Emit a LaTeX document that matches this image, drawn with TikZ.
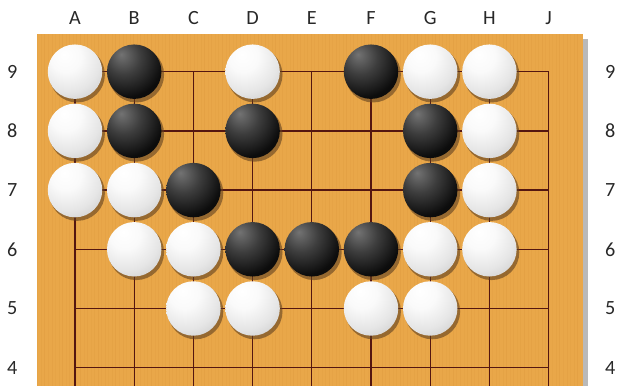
\documentclass[tikz,border=0pt]{standalone}
\usepackage{fontspec}
\setmainfont{Carlito}
\usetikzlibrary{shadows}
\definecolor{boardwood}{RGB}{233,167,73}
\definecolor{boardstripe}{RGB}{212,143,52}
\definecolor{gridbrown}{RGB}{84,22,16}
\definecolor{labelgray}{RGB}{40,40,40}
\pgfdeclareradialshading{whitestone}{\pgfpoint{-10bp}{16bp}}{%
  color(0bp)=(white); color(14bp)=(white!98!black);
  color(30bp)=(white!90!black); color(48bp)=(white!76!black);
  color(64bp)=(white!62!black); color(100bp)=(white!62!black)}
\pgfdeclareradialshading{blackstone}{\pgfpoint{-12bp}{16bp}}{%
  color(0bp)=(black!55); color(16bp)=(black!76);
  color(34bp)=(black!95); color(58bp)=(black);
  color(100bp)=(black)}
\tikzset{
  stone/.style={circle, minimum size=0.92cm, inner sep=0pt,
    drop shadow={shadow xshift=0.035cm, shadow yshift=-0.05cm,
      shadow scale=1.02, fill=brown!50!black, opacity=0.6}},
  wstone/.style={stone, shading=whitestone},
  bstone/.style={stone, shading=blackstone},
  coordlabel/.style={font=\fontsize{9.7}{11}\selectfont, text=labelgray, inner sep=0pt}
}

\begin{document}
\begin{tikzpicture}[x=1cm, y=1cm]
  \useasboundingbox (-0.267,3.691) rectangle (10.189,10.211);
  %% Board and its edge shadow
  \fill[gray!55] (9.581,3.691) rectangle (9.666,9.56);
  \fill[boardwood] (0.358,3.691) rectangle (9.581,9.637);
  %% Wood grain
  \foreach \s in {0,...,152}{
    \pgfmathsetmacro{\op}{0.10+0.12*mod(\s*7,5)/4}
    \draw[boardstripe, opacity=\op, line width=0.35pt]
      ({0.37+0.06*\s},3.691) -- ({0.37+0.06*\s},9.637);
  }
  %% Grid lines
  \foreach \x in {1,...,9}{
    \draw[gridbrown, line width=0.6pt] (\x,9) -- (\x,3.691);
  }
  \foreach \y in {4,...,9}{
    \draw[gridbrown, line width=0.6pt] (1,\y) -- (9,\y);
  }
  %% Column letters
  \foreach \x/\c in {1/A, 2/B, 3/C, 4/D, 5/E, 6/F, 7/G, 8/H, 9/J}{
    \node[coordlabel] (top-\c) at (\x,9.902) {\c};
  }
  %% Row numbers
  \foreach \y in {4,...,9}{
    \node[coordlabel] (left-\y) at (-0.06,\y) {\y};
    \node[coordlabel] (right-\y) at (10.04,\y) {\y};
  }
  %% White stones
  \foreach \x/\y in {1/9, 4/9, 7/9, 8/9, 1/8, 8/8, 1/7, 2/7, 8/7,
                     2/6, 3/6, 7/6, 8/6, 3/5, 4/5, 6/5, 7/5}{
    \node[wstone] (w-\x-\y) at (\x,\y) {};
  }
  %% Black stones
  \foreach \x/\y in {2/9, 6/9, 2/8, 4/8, 7/8, 3/7, 7/7, 4/6, 5/6, 6/6}{
    \node[bstone] (b-\x-\y) at (\x,\y) {};
  }
\end{tikzpicture}
\end{document}
